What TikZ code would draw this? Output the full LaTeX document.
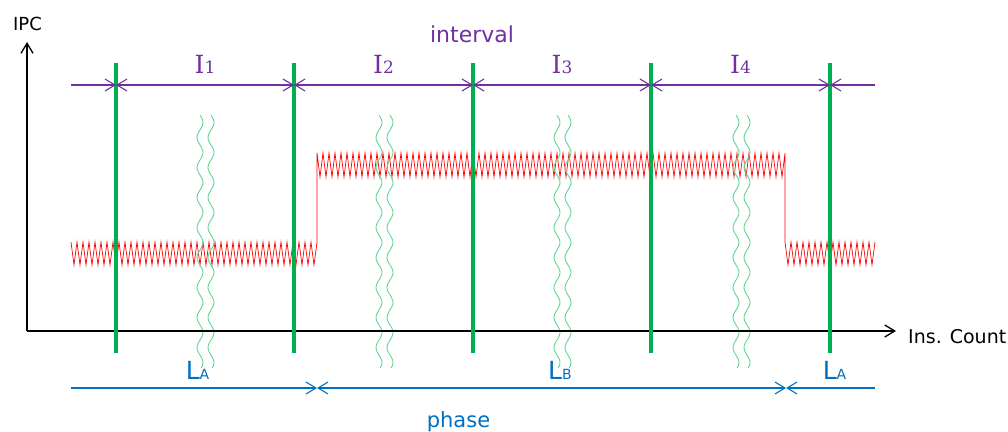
\documentclass[tikz,border=0pt]{standalone}
\usepackage{fontspec}
\setmainfont{DejaVu Sans}
\newfontfamily\serifI{DejaVu Serif}
\usetikzlibrary{arrows.meta}
\definecolor{ipurple}{RGB}{112,48,160}
\definecolor{pblue}{RGB}{0,112,192}
\definecolor{tgreen}{RGB}{0,176,80}
\definecolor{wgreen}{RGB}{95,215,145}
\tikzset{barb/.tip={Straight Barb[length=10pt,width=12pt,line width=1.1pt]}}
\begin{document}
\begin{tikzpicture}[x=1pt,y=-1pt,
  axisline/.style={black,line width=1.3pt,-{Straight Barb[length=10pt,width=12pt,line width=1.3pt]}},
  tickline/.style={tgreen,line width=4pt},
  ivline/.style={ipurple,line width=1.3pt},
  phline/.style={pblue,line width=1.3pt},
  wave/.style={wgreen,line width=0.9pt},
  sig/.style={red,line width=0.7pt,line join=miter},
  lbl/.style={inner sep=0pt,anchor=base}
]
\useasboundingbox (0,0) rectangle (1008,431);

% signal
\draw[sig] (71,242)
  foreach \i in {0,...,40}{ -- ({71+6*\i+3},265) -- ({71+6*\i+6},242) }
  -- (317,153)
  foreach \i in {0,...,77}{ -- ({317+6*\i+3},177) -- ({317+6*\i+6},153) }
  -- (785,242)
  foreach \i in {0,...,14}{ -- ({785+6*\i+3},265) -- ({785+6*\i+6},242) };

% break waves
\foreach \x in {200,211,379,390,557,568,736,747}{
  \draw[wave] plot[domain=115:368,samples=140,variable=\t] ({\x+3*sin(12*(\t-115))},\t);
}

% axes
\coordinate (O) at (27,331);
\coordinate (ytop) at (27,42);
\coordinate (xend) at (896,331);
\draw[axisline] (O) -- (ytop);
\draw[axisline] (O) -- (xend);
\node[lbl] (ipc) at (27.5,30) {\fontsize{18}{18}\selectfont IPC};
\node[lbl,anchor=base west] (ins) at (908,343) {\fontsize{19}{19}\selectfont Ins. Count};

% green boundary lines
\foreach \n/\x in {1/116,2/294,3/473,4/651,5/830}{
  \coordinate (gt\n) at (\x,63);
  \coordinate (gb\n) at (\x,353);
  \coordinate (gi\n) at (\x,85);
  \draw[tickline] (gt\n) -- (gb\n);
}

% interval arrows
\coordinate (iL) at (71,85);
\coordinate (iR) at (875,85);
\draw[ivline,-{barb}] (iL) -- (gi1);
\draw[ivline,{barb}-{barb}] (gi1) -- (gi2);
\draw[ivline,{barb}-{barb}] (gi2) -- (gi3);
\draw[ivline,{barb}-{barb}] (gi3) -- (gi4);
\draw[ivline,{barb}-{barb}] (gi4) -- (gi5);
\draw[ivline,-{barb}] (iR) -- (gi5);

\foreach \n/\x in {1/205,2/383.5,3/562,4/740.5}{
  \node[lbl,text=ipurple] (I\n) at (\x,73) {\serifI\fontsize{25}{25}\selectfont I\fontsize{17}{17}\selectfont\n};
}
\node[lbl,text=ipurple] (interval) at (472,42) {\fontsize{22}{22}\selectfont interval};

% phase arrows
\coordinate (pL) at (71,388);
\coordinate (p1) at (317,388);
\coordinate (p2) at (786,388);
\coordinate (pR) at (875,388);
\draw[phline,-{barb}] (pL) -- (p1);
\draw[phline,{barb}-{barb}] (p1) -- (p2);
\draw[phline,-{barb}] (pR) -- (p2);

\node[lbl,text=pblue] (LA1) at (197.5,379) {\fontsize{25}{25}\selectfont L\fontsize{14}{14}\selectfont A};
\node[lbl,text=pblue] (LB) at (560,379) {\fontsize{25}{25}\selectfont L\fontsize{14}{14}\selectfont B};
\node[lbl,text=pblue] (LA2) at (834.5,379) {\fontsize{25}{25}\selectfont L\fontsize{14}{14}\selectfont A};
\node[lbl,text=pblue] (phase) at (458.5,427) {\fontsize{21}{21}\selectfont phase};
\end{tikzpicture}
\end{document}
